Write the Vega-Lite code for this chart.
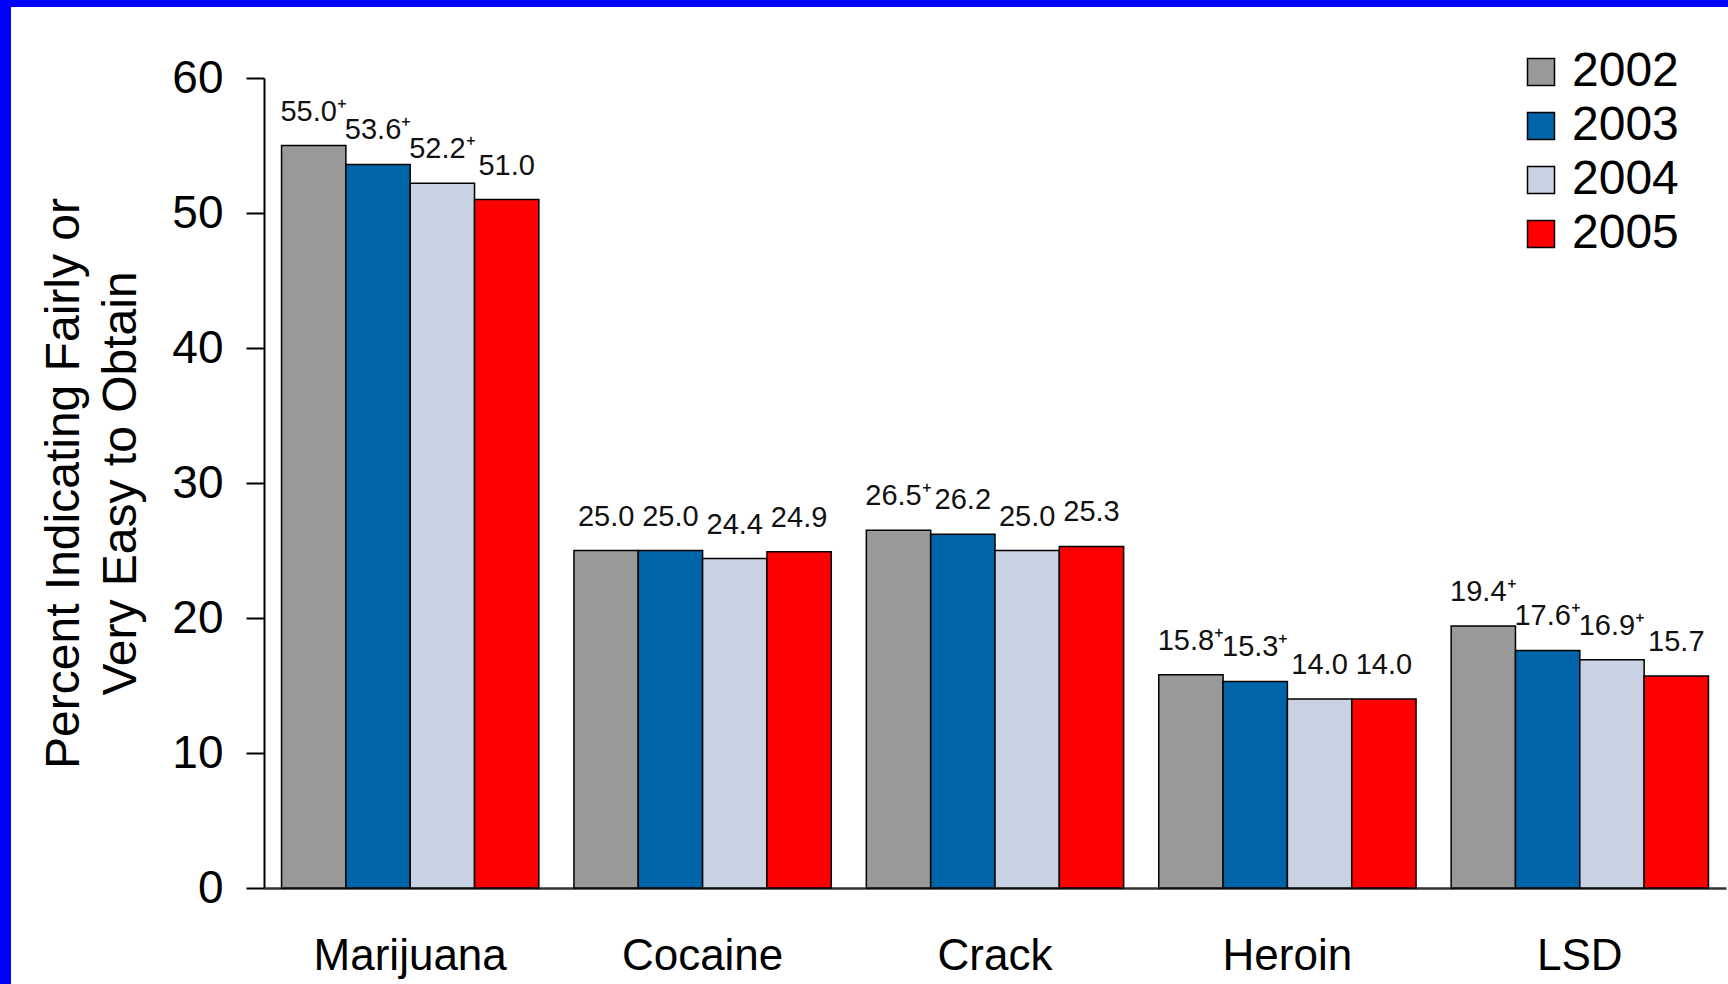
{
  "$schema": "https://vega.github.io/schema/vega-lite/v6.json",
  "width": 1717,
  "height": 977,
  "autosize": {"type": "none"},
  "padding": {"left": 11, "top": 7, "right": 0, "bottom": 0},
  "background": "#0000FF",
  "config": {
    "view": {"fill": "white", "stroke": null},
    "font": "Liberation Sans",
    "axis": {"labelFont": "Liberation Sans", "titleFont": "Liberation Sans", "labelColor": "black", "titleColor": "black", "grid": false}
  },
  "data": {
    "values": [
      {"drug": "Marijuana", "year": "2002", "value": 55.0, "sig": true},
      {"drug": "Marijuana", "year": "2003", "value": 53.6, "sig": true},
      {"drug": "Marijuana", "year": "2004", "value": 52.2, "sig": true},
      {"drug": "Marijuana", "year": "2005", "value": 51.0, "sig": false},
      {"drug": "Cocaine", "year": "2002", "value": 25.0, "sig": false},
      {"drug": "Cocaine", "year": "2003", "value": 25.0, "sig": false},
      {"drug": "Cocaine", "year": "2004", "value": 24.4, "sig": false},
      {"drug": "Cocaine", "year": "2005", "value": 24.9, "sig": false},
      {"drug": "Crack", "year": "2002", "value": 26.5, "sig": true},
      {"drug": "Crack", "year": "2003", "value": 26.2, "sig": false},
      {"drug": "Crack", "year": "2004", "value": 25.0, "sig": false},
      {"drug": "Crack", "year": "2005", "value": 25.3, "sig": false},
      {"drug": "Heroin", "year": "2002", "value": 15.8, "sig": true},
      {"drug": "Heroin", "year": "2003", "value": 15.3, "sig": true},
      {"drug": "Heroin", "year": "2004", "value": 14.0, "sig": false},
      {"drug": "Heroin", "year": "2005", "value": 14.0, "sig": false},
      {"drug": "LSD", "year": "2002", "value": 19.4, "sig": true},
      {"drug": "LSD", "year": "2003", "value": 17.6, "sig": true},
      {"drug": "LSD", "year": "2004", "value": 16.9, "sig": true},
      {"drug": "LSD", "year": "2005", "value": 15.7, "sig": false}
    ]
  },
  "encoding": {
    "x": {
      "field": "drug", "type": "nominal", "sort": null,
      "scale": {"range": [253, 1715], "paddingInner": 0.12, "paddingOuter": 0.06},
      "axis": {
        "title": null, "labelAngle": 0, "ticks": false, "offset": -96,
        "labelFontSize": 44, "labelPadding": 46, "labelLimit": 0,
        "domainColor": "#333333", "domainWidth": 2.5
      }
    },
    "xOffset": {"field": "year", "type": "nominal", "scale": {"paddingInner": 0, "paddingOuter": 0}},
    "y": {
      "field": "value", "type": "quantitative",
      "scale": {"domain": [0, 60], "range": [881, 71], "nice": false},
      "axis": {
        "values": [0, 10, 20, 30, 40, 50, 60], "offset": -253,
        "title": ["Percent Indicating Fairly or", "Very Easy to Obtain"],
        "titleFontSize": 48, "titleFontWeight": "normal", "titleLineHeight": 57, "titlePadding": 26,
        "labelFontSize": 46, "labelPadding": 23,
        "tickSize": 18, "tickWidth": 2, "tickColor": "black",
        "domainColor": "black", "domainWidth": 2
      }
    }
  },
  "layer": [
    {
      "mark": {"type": "bar", "stroke": "black", "strokeWidth": 1.5},
      "encoding": {
        "fill": {
          "field": "year", "type": "nominal",
          "scale": {"domain": ["2002", "2003", "2004", "2005"], "range": ["#999999", "#0064A8", "#C8D2E2", "#FF0000"]},
          "legend": {
            "title": null, "orient": "none", "legendX": 1506, "legendY": 41,
            "symbolType": "square", "symbolSize": 729, "symbolStrokeColor": "black", "symbolStrokeWidth": 1.5,
            "labelFontSize": 48, "labelFont": "Liberation Sans", "labelColor": "black", "labelOffset": 7,
            "rowPadding": 6, "padding": 0
          }
        }
      }
    },
    {
      "transform": [
        {"calculate": "format(datum.value, '.1f') + (datum.sig ? '⁺' : '')", "as": "label"}
      ],
      "mark": {"type": "text", "baseline": "alphabetic", "dy": -25, "fontSize": 29, "color": "#111111", "font": "Liberation Sans"},
      "encoding": {
        "text": {"field": "label"}
      }
    }
  ]
}
